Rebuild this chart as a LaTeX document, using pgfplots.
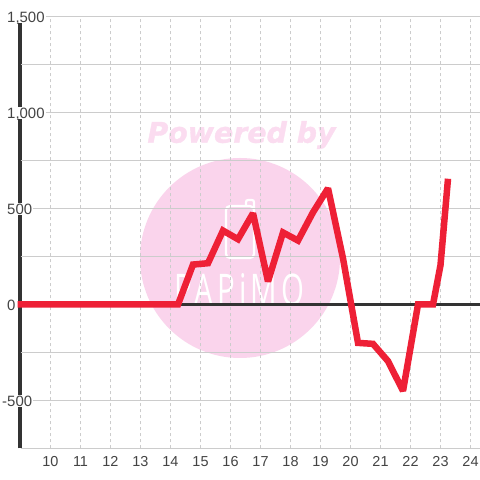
\documentclass[border=0pt]{standalone}
\usepackage{graphicx}
\usepackage{fontspec}
\setmainfont{Liberation Sans}
\newfontfamily\wmfont{DejaVu Sans}[BoldFont={* Bold},BoldItalicFont={* Bold Oblique},BoldItalicFeatures={FakeBold=1.2}]
\newfontfamily\logofont{Open Sans}[LetterSpace=14]
\usepackage{pgfplots}
\pgfplotsset{compat=1.18}
\definecolor{pinkA}{HTML}{FAD4EC}
\definecolor{pinkB}{HTML}{FBDCF0}
\definecolor{gridc}{HTML}{CCCCCC}
\definecolor{lab}{HTML}{444444}
\definecolor{axisc}{HTML}{333333}
\definecolor{redl}{HTML}{EE2036}
\pgfplotstableread{
x y
8.9 0
14.25 0
14.75 208
15.25 215
15.75 385
16.25 340
16.75 475
17.25 120
17.75 375
18.25 333
18.75 480
19.25 605
19.75 240
20.25 -200
20.75 -205
21.25 -295
21.75 -450
22.25 0
22.75 0
23.0 205
23.25 655
}\datatable
\begin{document}
\begin{tikzpicture}[x=1bp,y=1bp]
\path[use as bounding box] (0,0) rectangle (480,480);
\fill[white] (0,0) rectangle (480,480);
\fill[pinkA] (240,222) circle (100);
\node[text=pinkB,font=\wmfont\bfseries\itshape\fontsize{28.5}{30}\selectfont,inner sep=0pt] at (241.5,345) {Powered by};
\draw[white,line width=2.2bp,rounded corners=4bp] (226,222) rectangle (254,274);
\draw[white,line width=2.2bp,rounded corners=2bp] (246,274) -- (246,280) -- (254,280) -- (254,272);
\node[text=white,inner sep=0pt] at (239.5,190.5) {\resizebox{130bp}{32bp}{\logofont PAPiMO}};
\draw[axisc,line width=4bp] (20.3,31.5) -- (20.3,463.5);
\begin{axis}[
  at={(20.5bp,31.5bp)},anchor=south west,
  scale only axis,width=459.5bp,height=432bp,
  xmin=9,xmax=24.317,ymin=-750,ymax=1500,
  axis line style={draw=none},
  clip=false,
  xtick={10,...,24},
  ytick={-500,0,500,1000,1500},
  yticklabels={\llap{-}500,0,500,{1,000},{1,500}},
  minor ytick={-750,-250,250,750,1250},
  tick style={draw=none},
  minor tick style={draw=none},
  xmajorgrids=true,
  ymajorgrids=true,
  yminorgrids=true,
  x grid style={gridc,line width=1bp,dash pattern=on 3bp off 3bp},
  y grid style={gridc,line width=1bp},
  minor y grid style={gridc,line width=1bp},
  xticklabel style={text=lab,font=\fontsize{14.5}{16}\selectfont,yshift=-4bp,text height=10.5bp,text depth=0pt},
  yticklabel style={text=lab,font=\fontsize{15}{16}\selectfont,anchor=west,xshift=-14.5bp,yshift=-0.5bp,fill=white,inner xsep=1bp,inner ysep=1bp,text height=10.5bp,text depth=0pt},
  /pgf/number format/assume math mode=true,
]
\draw[axisc,line width=3bp] (axis cs:9,0) -- (axis cs:24.317,0);
\addplot[redl,line width=6.5bp,line join=miter,miter limit=2,line cap=butt,no markers] table[x=x,y=y] {\datatable};
\end{axis}
\end{tikzpicture}
\end{document}
